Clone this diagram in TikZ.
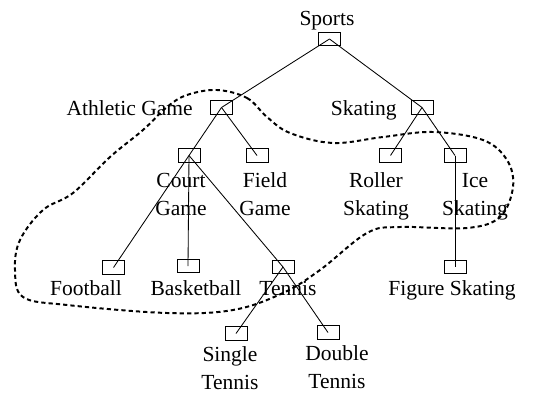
\documentclass[tikz,border=0pt]{standalone}
\usepackage{fontspec}
\setmainfont{Liberation Serif}
\usetikzlibrary{calc}

\tikzset{
    nodebox/.style={draw, line width=0.6pt, minimum width=0.55cm, minimum height=0.33cm, inner sep=0pt},
    lbl/.style={inner sep=0pt, align=center, font=\fontsize{15.3}{19.8}\selectfont},
    edge/.style={line width=0.6pt},
    hull/.style={line width=1.4pt, dash pattern=on 3pt off 2.2pt}
}

\begin{document}
\begin{tikzpicture}[x=0.025cm, y=-0.025cm]
    \useasboundingbox (0,0) rectangle (558,394);

    % boxes
    \node[nodebox] (sports) at (329.5,39) {};
    \node[nodebox] (athletic) at (221.5,107.5) {};
    \node[nodebox] (skating) at (422,107.5) {};
    \node[nodebox] (court) at (189,155.5) {};
    \node[nodebox] (field) at (257,155.5) {};
    \node[nodebox] (roller) at (390.5,155.5) {};
    \node[nodebox] (ice) at (455,155.5) {};
    \node[nodebox] (football) at (113.5,267.5) {};
    \node[nodebox] (basketball) at (188,266) {};
    \node[nodebox] (tennis) at (283,267) {};
    \node[nodebox] (figure) at (455,267) {};
    \node[nodebox] (single) at (236,333.5) {};
    \node[nodebox] (double) at (328,332.5) {};

    % labels (two-line labels sit on the baseline of their last line)
    \node[lbl, anchor=base] (sportslbl) at (327,26) {Sports};
    \node[lbl, anchor=base east] (athleticlbl) at (193,115) {Athletic Game};
    \node[lbl, anchor=base east] (skatinglbl) at (397,115) {Skating};
    \node[lbl, anchor=base] (courtlbl) at (181,215) {Court\\Game};
    \node[lbl, anchor=base] (fieldlbl) at (265,215) {Field\\Game};
    \node[lbl, anchor=base] (rollerlbl) at (376,215) {Roller\\Skating};
    \node[lbl, anchor=base] (icelbl) at (475,215) {Ice\\Skating};
    \node[lbl, anchor=base] (footballlbl) at (86,295) {Football};
    \node[lbl, anchor=base] (basketballlbl) at (196,295) {Basketball};
    \node[lbl, anchor=base] (tennislbl) at (288,295) {Tennis};
    \node[lbl, anchor=base] (figurelbl) at (452,295) {Figure Skating};
    \node[lbl, anchor=base] (singlelbl) at (230,389) {Single\\Tennis};
    \node[lbl, anchor=base] (doublelbl) at (337,388) {Double\\Tennis};

    % tree edges
    \foreach \p/\c in {sports/athletic, sports/skating, athletic/court, athletic/field,
                       skating/roller, skating/ice, court/football, court/basketball,
                       court/tennis, ice/figure, tennis/single, tennis/double}
        \draw[edge] (\p.center) -- (\c.center);

    % dashed region
    \draw[hull] plot[smooth cycle, tension=0.6] coordinates {
        (217,90) (247,98) (267,117) (290,133) (333,143) (383,137) (433,132)
        (483,140) (507,160) (513,187) (500,217) (467,228) (400,227) (367,233)
        (320,270) (283,293) (233,310) (167,313) (67,305) (23,297) (15,270)
        (20,240) (43,210) (73,193) (110,157) (143,130) (167,107) (187,95)};
\end{tikzpicture}
\end{document}
